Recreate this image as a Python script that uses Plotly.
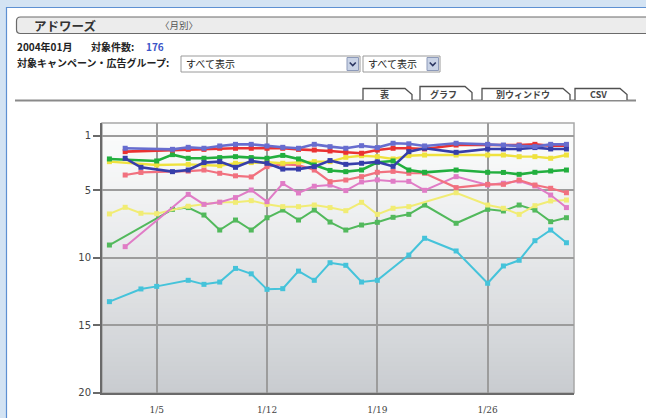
import plotly.graph_objects as go

# ---------------- data ----------------
days = list(range(2, 32))  # January 2..31
tick_days = [5, 12, 19, 26]
tick_labels = ["1/5", "1/12", "1/19", "1/26"]
y_ticks = [1, 5, 10, 15, 20]

N = None
periwinkle = [N, 1.91, N, N, 1.99, 1.84, 1.91, 1.74, 1.62, 1.62, 1.74, 1.84, 1.91, 1.62, 1.79,
              1.91, 1.72, 1.86, 1.54, 1.58, 1.74, N, 1.54, N, 1.62, 1.67, 1.72, 1.79, 1.62, 1.62]
red = [N, 2.16, N, N, 2.04, 1.99, 1.99, 1.91, 1.91, 1.91, 1.91, 1.91, 1.99, 2.04, 2.11,
       2.21, 2.28, 2.04, 1.91, 1.91, 1.96, N, 1.67, N, 1.67, 1.72, 1.67, 1.62, 1.72, 1.72]
dark_blue = [N, 2.65, 3.32, N, 3.64, 3.52, 2.97, 2.9, 3.32, 2.85, 3.02, 3.45, 3.45, 3.27, 2.82,
             3.1, 3.02, 2.92, 3.25, 2.16, 1.91, N, 2.21, N, 1.96, 1.96, 1.96, 1.86, 1.96, 1.96]
yellow_top = [2.9, N, N, 3.15, N, 3.1, 3.15, 3.2, 3.02, 2.97, 2.95, 3.02, 2.95, 2.9, 2.9,
              2.58, 2.46, 2.53, 2.7, 2.46, 2.41, N, 2.41, N, 2.41, 2.41, 2.53, 2.53, 2.65, 2.41]
green_top = [2.7, N, N, 2.85, 2.38, 2.65, 2.65, 2.6, 2.53, 2.6, 2.65, 2.44, 2.7, 3.15, 3.55,
             3.64, 3.52, 2.95, 2.85, 3.52, 3.69, N, 3.52, N, 3.69, 3.7, 3.84, 3.69, 3.59, 3.52]
salmon = [N, 3.89, 3.7, N, N, 3.6, 3.52, 3.76, 3.95, 4.03, 3.27, 3.1, 3.15, 3.52, 4.38,
          4.26, 4.01, 3.69, 3.62, 3.76, 3.76, N, 4.82, N, 4.58, 4.58, 4.26, 4.63, 4.87, 5.2]
orchid = [N, 9.19, N, N, N, 5.32, 6.06, 5.9, 5.56, 5.0, 5.86, 4.52, 5.22, 4.72, 4.63,
          5.04, 4.4, 4.25, 4.35, 4.36, 5.02, N, 4.01, N, 4.63, 4.5, 4.33, 4.7, 5.37, 6.3]
yellow_low = [6.77, 6.28, 6.72, 6.75, N, 6.2, 6.06, 5.91, 5.91, 5.79, 6.06, 6.23, 6.23, 6.11, 6.3,
              6.53, 5.91, 6.8, 6.35, 6.23, N, N, 5.2, N, 6.11, 6.35, 6.8, 6.16, 5.81, 5.74]
green_low = [9.07, N, N, N, 6.43, 6.3, 6.85, 7.96, 7.22, 7.96, 7.05, 6.48, 7.22, 6.48, 7.37,
             7.96, 7.59, 7.39, 7.02, 6.8, 6.11, N, 7.46, N, 6.43, 6.55, 6.11, 6.48, 7.34, 7.05]
cyan = [13.26, N, 12.32, 12.13, N, 11.68, 11.98, 11.81, 10.8, 11.2, 12.35, 12.3, 11.0, 11.68, 10.38,
        10.57, 11.81, 11.68, N, 9.81, 8.57, N, 9.51, N, 11.9, 10.62, 10.2, 8.75, 7.96, 8.9]

series = [
    ("cyan", cyan, "#45c3da", 2.0),
    ("green_low", green_low, "#52b95c", 2.0),
    ("yellow_low", yellow_low, "#f1ec74", 2.0),
    ("orchid", orchid, "#e07cc6", 2.0),
    ("salmon", salmon, "#f1717f", 2.2),
    ("yellow_top", yellow_top, "#efe23e", 2.4),
    ("green_top", green_top, "#22af3e", 2.6),
    ("red", red, "#ea3232", 2.6),
    ("dark_blue", dark_blue, "#363eaa", 2.6),
    ("periwinkle", periwinkle, "#676dcf", 2.6),
]

# ---------------- geometry helpers ----------------
W, H = 646, 418
ML, MR, MT, MB = 102, 72, 123, 25
PW, PH = W - ML - MR, H - MT - MB


def px(x):
    return (x - ML) / PW


def py(y):
    return (H - MB - y) / PH


fig = go.Figure()
for name, vals, color, lw in series:
    fig.add_trace(go.Scatter(
        x=days, y=vals, mode="lines+markers", name=name, connectgaps=True,
        line=dict(color=color, width=lw),
        marker=dict(symbol="square", size=5, color=color),
        hoverinfo="x+y",
    ))

shapes = []
# white page panel
shapes.append(dict(type="rect", xref="paper", yref="paper", layer="below",
                   x0=px(6.5), x1=px(660), y0=py(7.5), y1=py(430),
                   fillcolor="white", line=dict(color="#5d90d2", width=1.2)))
# plot gradient background
nb = 60
for i in range(nb):
    t = i / (nb - 1)
    tt = t ** 1.2
    c0 = (251, 252, 252)
    c1 = (201, 204, 208)
    col = tuple(round(c0[k] + (c1[k] - c0[k]) * tt) for k in range(3))
    shapes.append(dict(type="rect", xref="paper", yref="paper", layer="below",
                       x0=0, x1=1, y0=1 - (i + 1) / nb - 0.002, y1=1 - i / nb,
                       fillcolor="rgb(%d,%d,%d)" % col, line=dict(width=0)))
# light frame on top/right
shapes.append(dict(type="rect", xref="paper", yref="paper", layer="below",
                   x0=0, x1=1, y0=0, y1=1, line=dict(color="#a8a8a8", width=1.5)))

# header bar (rounded left end)
hx0, hx1, hy0, hy1, r = 16.5, 660, 17, 33.5, 4
shapes.append(dict(type="path", xref="paper", yref="paper", layer="below",
                   path="M %f,%f L %f,%f L %f,%f L %f,%f Q %f,%f %f,%f L %f,%f Q %f,%f %f,%f Z" % (
                       px(hx0 + r), py(hy0), px(hx1), py(hy0), px(hx1), py(hy1), px(hx0 + r), py(hy1),
                       px(hx0), py(hy1), px(hx0), py(hy1 - r), px(hx0), py(hy0 + r),
                       px(hx0), py(hy0), px(hx0 + r), py(hy0)),
                   fillcolor="#ececec", line=dict(color="#6a6a6a", width=1.2)))


def add_select(x0, x1, y0, y1):
    shapes.append(dict(type="rect", xref="paper", yref="paper", layer="below",
                       x0=px(x0), x1=px(x1), y0=py(y1), y1=py(y0),
                       fillcolor="white", line=dict(color="#9a9a9a", width=1)))
    ax0 = x1 - 13
    shapes.append(dict(type="rect", xref="paper", yref="paper", layer="below",
                       x0=px(ax0), x1=px(x1 - 1.5), y0=py(y1 - 1.5), y1=py(y0 + 1.5),
                       fillcolor="#c9d3e6", line=dict(color="#8e9bba", width=1)))
    cx, cy = (ax0 + x1 - 1.5) / 2, (y0 + y1) / 2
    shapes.append(dict(type="path", xref="paper", yref="paper", layer="above",
                       path="M %f,%f L %f,%f L %f,%f" % (px(cx - 3), py(cy - 1.5), px(cx), py(cy + 1.5),
                                                         px(cx + 3), py(cy - 1.5)),
                       line=dict(color="#2a3560", width=1.6)))


add_select(181, 360, 56, 72)
add_select(363, 440, 56, 72)

# tab baseline
shapes.append(dict(type="line", xref="paper", yref="paper", layer="below",
                   x0=px(15), x1=px(636), y0=py(100.5), y1=py(100.5),
                   line=dict(color="#8a8a8a", width=2)))
tabs = [("表", 363, 412, 88.5), ("グラフ", 420, 472, 86.5), ("別ウィンドウ", 482, 570, 88.5),
        ("CSV", 575, 627, 88.5)]
for label, x0, x1, top in tabs:
    shapes.append(dict(type="path", xref="paper", yref="paper", layer="below",
                       path="M %f,%f L %f,%f L %f,%f L %f,%f L %f,%f" % (
                           px(x0), py(100), px(x0), py(top), px(x1 - 7), py(top),
                           px(x1), py(top + 6), px(x1), py(100)),
                       fillcolor="white", line=dict(color="#505050", width=1.3)))

annotations = []


def txt(x, y, s, size=10, color="#222", bold=True, anchor="left"):
    annotations.append(dict(xref="paper", yref="paper", x=px(x), y=py(y), text=("<b>%s</b>" % s) if bold else s,
                            showarrow=False, xanchor=anchor, yanchor="middle",
                            font=dict(family="Noto Sans CJK JP", size=size, color=color)))


txt(32, 25, "アドワーズ", size=12.5, color="#333")
txt(158, 25, "〈月別〉", size=9.5, color="#555", bold=False)
txt(15, 46, "2004年01月", size=10)
txt(89, 46, "対象件数:", size=10)
txt(144, 46, "176", size=10, color="#3b55c8")
txt(15, 63, "対象キャンペーン・広告グループ:", size=10)
txt(184, 64, "すべて表示", size=10, color="#222", bold=False)
txt(366, 64, "すべて表示", size=10, color="#222", bold=False)
for label, x0, x1, top in tabs:
    txt((x0 + x1 - 6) / 2, 94.5, label, size=9, color="#444", anchor="center")

fig.update_layout(
    width=W, height=H,
    margin=dict(l=ML, r=MR, t=MT, b=MB, pad=0, autoexpand=False),
    paper_bgcolor="#d3e3f3",
    plot_bgcolor="rgba(0,0,0,0)",
    showlegend=False,
    shapes=shapes,
    annotations=annotations,
    xaxis=dict(range=[1.53, 31.48], tickvals=tick_days, ticktext=tick_labels, ticks="",
               automargin=False,
               showgrid=True, gridcolor="#9c9c9c", gridwidth=1.5, zeroline=False,
               showline=True, linecolor="#6a6a6a", linewidth=2, ticklabelstandoff=7,
               tickfont=dict(family="DejaVu Serif", size=9, color="#444")),
    yaxis=dict(range=[20.02, 0.04], tickvals=y_ticks, ticks="outside", ticklen=7,
               automargin=False,
               tickcolor="#6a6a6a", tickwidth=1.5, showgrid=True, gridcolor="#9c9c9c",
               gridwidth=1.5, zeroline=False, showline=True, linecolor="#6a6a6a", linewidth=2,
               tickfont=dict(family="DejaVu Sans", size=10, color="#444")),
)

fig.write_html("out.html")
